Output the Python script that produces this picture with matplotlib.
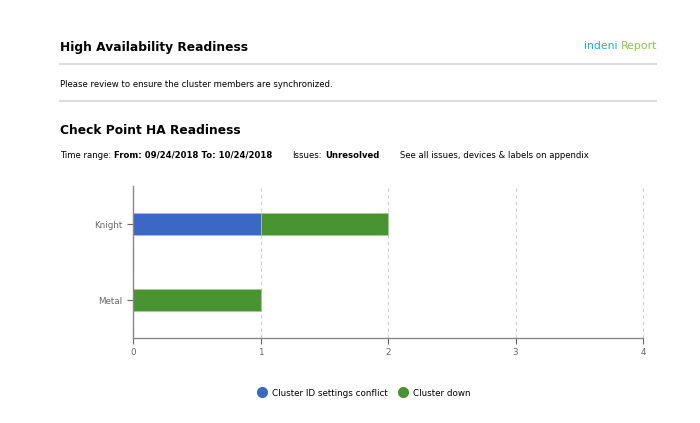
import matplotlib
matplotlib.use("Agg")
import matplotlib.pyplot as plt
from matplotlib.lines import Line2D

# data
devices = ["Metal", "Knight"]
conflict = [0, 1]      # Cluster ID settings conflict
down = [1, 1]          # Cluster down
series_names = ["Cluster ID settings conflict", "Cluster down"]
colors = ["#3b67c5", "#4a9333"]
xticks = [0, 1, 2, 3, 4]

fig = plt.figure(figsize=(7, 4.23), dpi=100)

# header
fig.text(60 / 700, 1 - 47 / 423, "High Availability Readiness", fontsize=8.8,
         fontweight="bold", va="center", ha="left")
fig.text(584 / 700, 1 - 46 / 423, "indeni", fontsize=7.8, color="#2aa7df",
         va="center", ha="left")
fig.text(657 / 700, 1 - 46 / 423, "Report", fontsize=7.8, color="#8cc63f",
         va="center", ha="right")
fig.add_artist(Line2D([60 / 700, 656 / 700], [1 - 64 / 423] * 2,
                      color="#dcdcdc", lw=1.5))
fig.text(60 / 700, 1 - 84 / 423,
         "Please review to ensure the cluster members are synchronized.",
         fontsize=6.1, va="center", ha="left")
fig.add_artist(Line2D([60 / 700, 656 / 700], [1 - 101 / 423] * 2,
                      color="#dcdcdc", lw=1.5))
fig.text(60 / 700, 1 - 130 / 423, "Check Point HA Readiness", fontsize=8.8,
         fontweight="bold", va="center", ha="left")

y = 1 - 155 / 423
fig.text(60 / 700, y, "Time range:", fontsize=6.1, va="center", ha="left")
fig.text(114 / 700, y, "From: 09/24/2018 To: 10/24/2018", fontsize=6.1,
         fontweight="bold", va="center", ha="left")
fig.text(292 / 700, y, "Issues:", fontsize=6.1, va="center", ha="left")
fig.text(325 / 700, y, "Unresolved", fontsize=6.1, fontweight="bold",
         va="center", ha="left")
fig.text(400 / 700, y, "See all issues, devices & labels on appendix",
         fontsize=6.1, va="center", ha="left")

# chart
ax = fig.add_axes([133 / 700, 1 - 338 / 423, 510 / 700, 152 / 423])
pos = range(len(devices))
ax.barh(pos, conflict, height=0.29, color=colors[0], label=series_names[0],
        edgecolor="#a9c0ea", linewidth=0.5)
ax.barh(pos, down, left=conflict, height=0.29, color=colors[1],
        label=series_names[1], edgecolor="#a3cf95", linewidth=0.5)

ax.set_xlim(0, 4)
ax.set_ylim(-0.5, 1.5)
ax.set_xticks(xticks)
ax.set_yticks(list(pos))
ax.set_yticklabels(devices)
ax.tick_params(labelsize=6.3, colors="#666666", length=4, width=0.8)
ax.xaxis.grid(True, linestyle=(0, (3, 3)), color="#cccccc", lw=0.8)
for gl in ax.get_xgridlines():
    gl.set_clip_on(False)
ax.set_axisbelow(True)
for s in ["top", "right"]:
    ax.spines[s].set_visible(False)
for s in ["left", "bottom"]:
    ax.spines[s].set_color("#888888")
    ax.spines[s].set_linewidth(1)

handles = [Line2D([], [], marker="o", ls="", markersize=7, color=c) for c in colors]
fig.legend(handles, series_names, loc="center", bbox_to_anchor=(362 / 700, 1 - 393 / 423),
           ncol=2, frameon=False, fontsize=6.3, handletextpad=0.1, columnspacing=0.8)

fig.savefig("out.png", dpi=100)
